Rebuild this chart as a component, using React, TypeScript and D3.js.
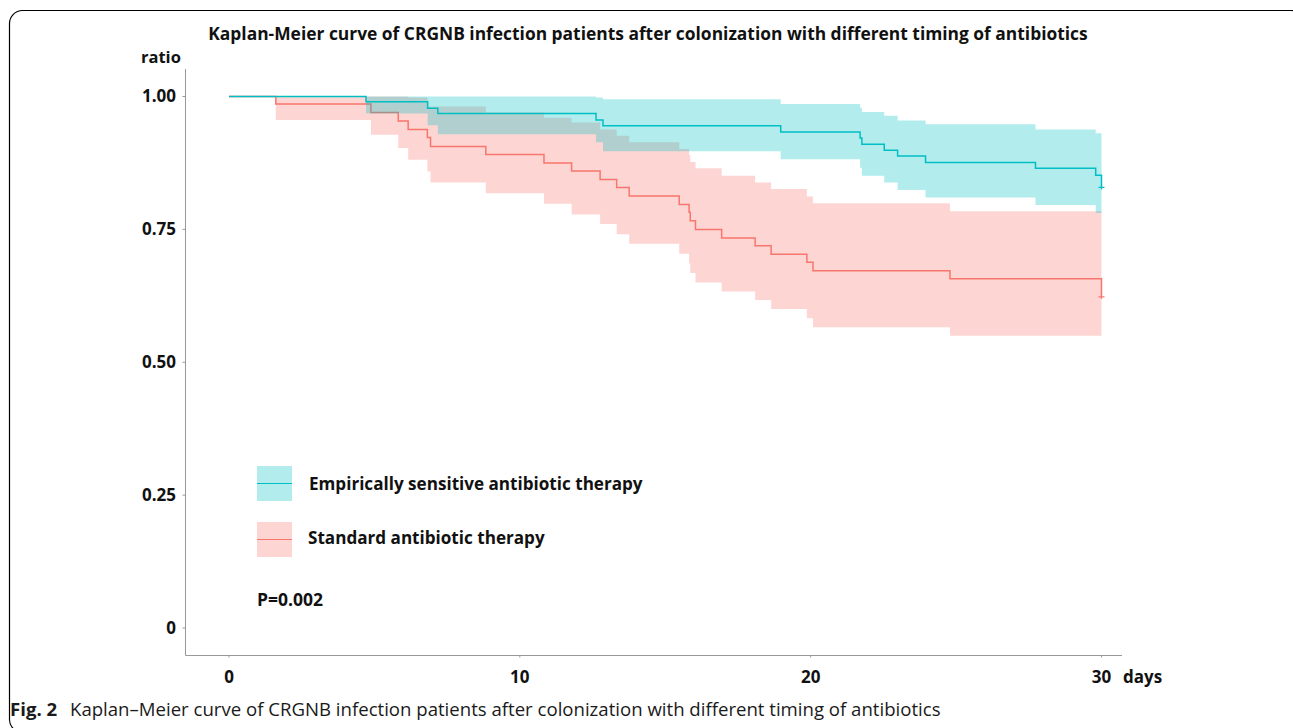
import React from "react";
import * as d3 from "d3";

const tealTime = [0, 4.71, 6.83, 7.18, 12.62, 12.86, 18.97, 21.7, 21.76, 22.53, 22.99, 23.95, 27.73, 29.8, 30];
const tealSurv = [1, 0.99, 0.978, 0.968, 0.956, 0.945, 0.933, 0.922, 0.91, 0.899, 0.888, 0.876, 0.865, 0.852, 0.829];
const tealUpper = [1, 1, 1, 1, 0.998, 0.995, 0.986, 0.979, 0.971, 0.964, 0.955, 0.948, 0.938, 0.931, 0.931];
const tealLower = [1, 0.968, 0.946, 0.929, 0.914, 0.897, 0.882, 0.866, 0.851, 0.838, 0.824, 0.81, 0.796, 0.781, 0.781];

const pinkTime = [0, 1.61, 4.88, 5.82, 6.16, 6.82, 6.93, 8.83, 10.83, 11.78, 12.76, 13.33, 13.76, 15.48, 15.82, 15.86, 16.04, 16.94, 18.09, 18.64, 19.87, 20.08, 24.79, 30];
const pinkSurv = [1, 0.986, 0.97, 0.954, 0.938, 0.923, 0.906, 0.891, 0.875, 0.86, 0.844, 0.829, 0.813, 0.797, 0.782, 0.766, 0.75, 0.734, 0.719, 0.703, 0.688, 0.672, 0.657, 0.623];
const pinkUpper = [1, 1, 1, 1, 0.998, 0.981, 0.981, 0.97, 0.96, 0.951, 0.938, 0.926, 0.914, 0.901, 0.89, 0.877, 0.865, 0.851, 0.838, 0.826, 0.812, 0.799, 0.784, 0.784];
const pinkLower = [1, 0.956, 0.928, 0.903, 0.881, 0.859, 0.838, 0.818, 0.798, 0.778, 0.76, 0.741, 0.723, 0.704, 0.686, 0.668, 0.65, 0.633, 0.617, 0.6, 0.583, 0.566, 0.55, 0.55];

const yTicks = [0, 0.25, 0.5, 0.75, 1];
const yTickLabels = ["0", "0.25", "0.50", "0.75", "1.00"];
const xTicks = [0, 10, 20, 30];
const seriesNames = ["Empirically sensitive antibiotic therapy", "Standard antibiotic therapy"];

const TEAL = "#00BFC4";
const PINK = "#F8766D";
const FONT = "'Open Sans', 'Noto Sans', sans-serif";

type Pt = { t: number; s: number; lo: number; hi: number };

function build(time: number[], surv: number[], lo: number[], hi: number[]): Pt[] {
  return time.map((t, i) => ({ t, s: surv[i], lo: lo[i], hi: hi[i] }));
}

export default function App() {
  const x = d3.scaleLinear().domain([0, 30]).range([229, 1101.5]);
  const y = d3.scaleLinear().domain([0, 1]).range([628, 96.5]);

  const line = d3
    .line<Pt>()
    .x((d) => x(d.t))
    .y((d) => y(d.s))
    .curve(d3.curveStepAfter);
  const area = d3
    .area<Pt>()
    .x((d) => x(d.t))
    .y0((d) => y(d.lo))
    .y1((d) => y(d.hi))
    .curve(d3.curveStepAfter);

  const teal = build(tealTime, tealSurv, tealLower, tealUpper);
  const pink = build(pinkTime, pinkSurv, pinkLower, pinkUpper);

  const axisColor = "#999";
  const x0 = 185.5;
  const yBottom = 655.5;

  const censor = (pts: Pt[], color: string) => {
    const last = pts[pts.length - 1];
    const cx = x(last.t);
    const cy = y(last.s);
    return (
      <g stroke={color} strokeWidth={1.2}>
        <line x1={cx - 3} x2={cx + 3} y1={cy} y2={cy} />
        <line x1={cx} x2={cx} y1={cy - 2} y2={cy + 2} />
      </g>
    );
  };

  return (
    <svg
      width={1293}
      height={728}
      style={{ position: "absolute", left: 0, top: 0, background: "#fff" }}
      fontFamily={FONT}
    >
      <rect x={9.5} y={10.5} width={1295} height={722} rx={13} fill="none" stroke="#000" strokeWidth={1.2} />

      <text x={648} y={40} textAnchor="middle" fontWeight="bold" fontSize={17.4} fill="#111">
        Kaplan-Meier curve of CRGNB infection patients after colonization with different timing of antibiotics
      </text>

      {/* axes */}
      <line x1={x0} x2={x0} y1={69} y2={yBottom} stroke={axisColor} strokeWidth={1} />
      <line x1={x0} x2={1122} y1={yBottom} y2={yBottom} stroke={axisColor} strokeWidth={1} />
      {yTicks.map((t, i) => (
        <g key={"yt" + i}>
          <line x1={x0 - 3} x2={x0} y1={y(t)} y2={y(t)} stroke={axisColor} />
          <text x={176} y={y(t)} dy="0.35em" textAnchor="end" fontWeight="bold" fontSize={17} fill="#111">
            {yTickLabels[i]}
          </text>
        </g>
      ))}
      {xTicks.map((t, i) => (
        <g key={"xt" + i}>
          <line x1={x(t)} x2={x(t)} y1={yBottom} y2={yBottom + 2} stroke={axisColor} />
          <text x={x(t)} y={683} textAnchor="middle" fontWeight="bold" fontSize={17} fill="#111">
            {t}
          </text>
        </g>
      ))}
      <text x={1123} y={683} fontWeight="bold" fontSize={17} fill="#111">days</text>
      <text x={141} y={63} fontWeight="bold" fontSize={16.5} fill="#111">ratio</text>

      {/* curves */}
      <path d={area(pink) || ""} fill={PINK} fillOpacity={0.3} stroke="none" />
      <path d={line(pink) || ""} fill="none" stroke={PINK} strokeWidth={1.5} />
      {censor(pink, PINK)}
      <path d={area(teal) || ""} fill={TEAL} fillOpacity={0.3} stroke="none" />
      <path d={line(teal) || ""} fill="none" stroke={TEAL} strokeWidth={1.5} />
      {censor(teal, TEAL)}

      {/* legend */}
      <rect x={257} y={466} width={35} height={35} fill={TEAL} fillOpacity={0.3} />
      <line x1={257} x2={292} y1={483.5} y2={483.5} stroke={TEAL} strokeWidth={1} />
      <text x={309} y={484} dy="0.35em" fontWeight="bold" fontSize={17.1} fill="#111">{seriesNames[0]}</text>
      <rect x={257} y={522} width={35} height={35} fill={PINK} fillOpacity={0.3} />
      <line x1={257} x2={292} y1={539.5} y2={539.5} stroke={PINK} strokeWidth={1} />
      <text x={308} y={538} dy="0.35em" fontWeight="bold" fontSize={17.1} fill="#111">{seriesNames[1]}</text>
      <text x={257} y={600} dy="0.35em" fontWeight="bold" fontSize={17.5} fill="#111">P=0.002</text>

      {/* caption */}
      <text x={10} y={716} fontSize={18.6} fill="#1a1a1a">
        <tspan fontWeight="bold">Fig. 2</tspan>
        <tspan x={70}>Kaplan–Meier curve of CRGNB infection patients after colonization with different timing of antibiotics</tspan>
      </text>
    </svg>
  );
}
